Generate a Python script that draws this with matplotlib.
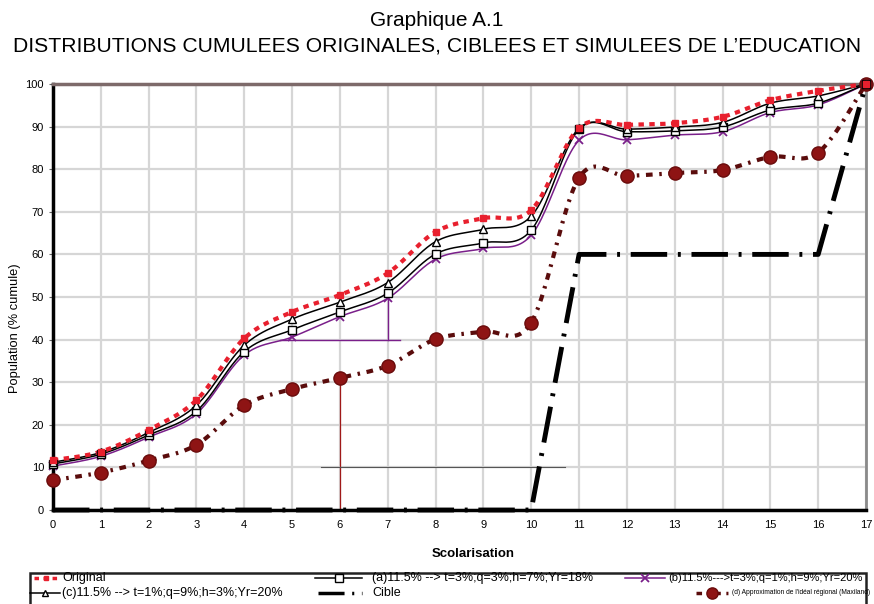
import numpy as np
import matplotlib
matplotlib.use("Agg")
import matplotlib.pyplot as plt
from matplotlib.lines import Line2D
from matplotlib.patches import Rectangle

plt.rcParams['font.family'] = ['Liberation Sans', 'DejaVu Sans']

# ---------------- data ----------------
scolarisation = list(range(0, 18))
original = [11.7, 13.7, 18.8, 25.8, 40.3, 46.5, 50.5, 55.6, 65.3, 68.5, 70.4, 89.7, 90.4, 90.8, 92.3, 96.2, 98.4, 100]
serie_a = [10.8, 13.1, 17.6, 23.2, 37.2, 42.3, 46.5, 50.9, 60.1, 62.7, 65.7, 89.4, 88.8, 89.0, 89.9, 93.9, 95.5, 100]
serie_b = [10.3, 12.6, 17.1, 22.6, 36.4, 40.6, 45.4, 49.7, 58.9, 61.4, 64.5, 86.8, 86.9, 88.0, 88.8, 93.3, 95.1, 100]
serie_c = [11.2, 13.5, 18.2, 24.6, 38.7, 44.8, 48.8, 53.4, 63.0, 65.9, 69.0, 89.6, 89.4, 89.9, 91.0, 95.5, 97.2, 100]
cible = [0, 0, 0, 0, 0, 0, 0, 0, 0, 0, 0, 60, 60, 60, 60, 60, 60, 100]
serie_d = [7.0, 8.8, 11.6, 15.3, 24.6, 28.4, 31.0, 33.9, 40.1, 41.9, 44.0, 78.0, 78.4, 79.1, 79.8, 82.9, 83.9, 100]

labels = {
    'orig': 'Original',
    'a': '(a)11.5% --> t=3%;q=3%;h=7%;Yr=18%',
    'b': '(b)11.5%--->t=3%;q=1%;h=9%;Yr=20%',
    'c': '(c)11.5% --> t=1%;q=9%;h=3%;Yr=20%',
    'cible': 'Cible',
    'd': "(d) Approximation de l'idéal régional (Maxiland)",
}
x_ticks = list(range(0, 18))
y_ticks = list(range(0, 101, 10))

# decorative stray lines visible in the scanned original
stray_segments = [
    ([4.75, 7.25], [40, 40], '#7a1f8a', 1.0),
    ([7, 7], [40, 51.5], '#7a1f8a', 1.0),
    ([6, 6], [0, 32.5], '#a01818', 0.9),
    ([5.6, 10.7], [10, 10], '#555555', 0.8),
]


def smooth(x, y, n=24):
    """Excel-like smoothed curve (Catmull-Rom / Bezier) for rendering only."""
    x = np.asarray(x, float)
    y = np.asarray(y, float)
    pts = np.column_stack([x, y])
    out = []
    m = len(pts)
    t = np.linspace(0, 1, n)[:, None]
    for i in range(m - 1):
        p0 = pts[i - 1] if i > 0 else pts[i]
        p1 = pts[i]
        p2 = pts[i + 1]
        p3 = pts[i + 2] if i + 2 < m else pts[i + 1]
        c1 = p1 + (p2 - p0) / 6.0
        c2 = p2 - (p3 - p1) / 6.0
        seg = ((1 - t) ** 3) * p1 + 3 * ((1 - t) ** 2) * t * c1 + 3 * (1 - t) * t ** 2 * c2 + t ** 3 * p2
        if i > 0:
            seg = seg[1:]
        out.append(seg)
    out = np.vstack(out)
    return out[:, 0], out[:, 1]


W, H = 874, 604
fig = plt.figure(figsize=(W / 100, H / 100), dpi=100)
ax = fig.add_axes([53 / W, 1 - 510 / H, (866 - 53) / W, (510 - 84) / H])

ax.set_xlim(0, 17)
ax.set_ylim(0, 100)
ax.set_xticks(x_ticks)
ax.set_yticks(y_ticks)
ax.grid(True, color='#d6d6d6', lw=1.6, zorder=0)
ax.set_axisbelow(True)

for xs, ys, col, lw in stray_segments:
    ax.plot(xs, ys, color=col, lw=lw, zorder=1)

RED = '#e8202e'
DRED = '#8e1414'
PURP = '#7a1f8a'

styles = {
    'orig': dict(color=RED, lw=3.0, ls=(0, (1.3, 1.3)), marker='s', ms=4, mfc=RED, mec=RED),
    'a': dict(color='black', lw=1.1, ls='-', marker='s', ms=6, mfc='white', mec='black', mew=1.0),
    'b': dict(color=PURP, lw=1.1, ls='-', marker='x', ms=6, mfc=PURP, mec=PURP, mew=1.3),
    'c': dict(color='black', lw=1.1, ls='-', marker='^', ms=5.5, mfc='white', mec='black', mew=1.0),
    'cible': dict(color='black', lw=3.5, ls=(0, (7.5, 2.2, 0.6, 2.2)), marker=None),
    'd': dict(color='#5a0c0c', lw=3.0, ls=(0, (1.6, 1.6, 0.6, 1.6)), marker='o', ms=9.5, mfc=DRED, mec='#6a0c0c', mew=1.0),
}

series = [('d', serie_d, True), ('cible', cible, False), ('b', serie_b, True),
          ('a', serie_a, True), ('c', serie_c, True), ('orig', original, True)]

for key, vals, sm in series:
    st = dict(styles[key])
    marker = st.pop('marker')
    ms = st.pop('ms', None)
    mfc = st.pop('mfc', None)
    mec = st.pop('mec', None)
    mew = st.pop('mew', 1.0)
    if sm:
        xs, ys = smooth(scolarisation, vals)
    else:
        xs, ys = scolarisation, vals
    ax.plot(xs, ys, zorder=3, clip_on=False, solid_capstyle='butt', dash_capstyle='butt', **st)
    if marker:
        ax.plot(scolarisation, vals, ls='none', marker=marker, ms=ms, mfc=mfc, mec=mec,
                mew=mew, zorder=4, clip_on=False)

for side in ['left', 'bottom']:
    ax.spines[side].set_color('black')
    ax.spines[side].set_linewidth(2.5)
ax.spines['top'].set_color('#7d6a6a')
ax.spines['top'].set_linewidth(2.5)
ax.spines['right'].set_color('#8a8a8a')
ax.spines['right'].set_linewidth(2.0)

ax.tick_params(axis='both', labelsize=8, length=3, width=0.8, color='#666666')
ax.tick_params(axis='x', length=0, pad=7)
ax.set_xlabel('Scolarisation', fontsize=9.5, fontweight='bold')
ax.xaxis.set_label_coords((473 - 53) / 813, -(548 - 510) / 426)
ax.set_ylabel('Population (% cumule)', fontsize=9.3)
ax.yaxis.set_label_coords((21 - 53) / 813, (510 - 328) / 426)

fig.text(0.5, 1 - 20 / H, 'Graphique A.1', ha='center', va='center', fontsize=15)
fig.text(0.5, 1 - 46 / H,
         "DISTRIBUTIONS CUMULEES ORIGINALES, CIBLEES ET SIMULEES DE L\u2019EDUCATION",
         ha='center', va='center', fontsize=15.2)

# legend box
fig.add_artist(Rectangle((30 / W, -0.01), (866 - 30) / W, 37 / H, transform=fig.transFigure,
                         facecolor='white', edgecolor='#222222', lw=1.8, zorder=5))


def legend_entry(key, x0, x1, xt, y, fs):
    st = styles[key]
    yf = 1 - y / H
    ln = Line2D([x0 / W, x1 / W], [yf, yf], transform=fig.transFigure,
                color=st['color'], lw=min(st['lw'], 2.5), ls=st['ls'], zorder=6)
    fig.add_artist(ln)
    if st.get('marker'):
        mk = Line2D([(x0 + x1) / 2 / W], [yf], transform=fig.transFigure, ls='none',
                    marker=st['marker'], ms=st['ms'] * 0.85, mfc=st['mfc'], mec=st['mec'],
                    mew=st.get('mew', 1.0), zorder=7)
        fig.add_artist(mk)
    fig.text(xt / W, yf, labels[key], ha='left', va='center', fontsize=fs, zorder=8)


legend_entry('orig', 34, 58, 62, 578, 9)
legend_entry('a', 315, 362, 372, 578, 9)
legend_entry('b', 625, 665, 668, 578, 8)
legend_entry('c', 30, 60, 62, 593, 9)
legend_entry('cible', 318, 362, 372, 593, 9)
legend_entry('d', 696, 728, 732, 593, 4.8)

fig.savefig('out.png', dpi=100)
